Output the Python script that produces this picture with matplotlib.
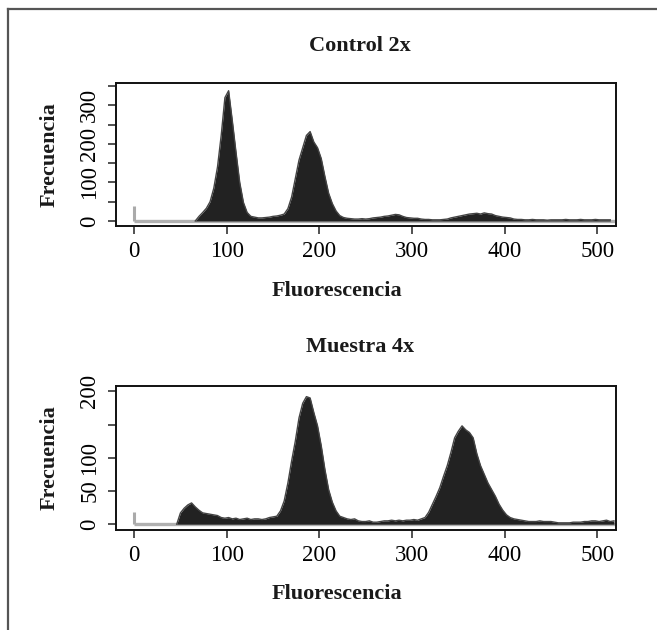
import numpy as np
import matplotlib
matplotlib.use("Agg")
import matplotlib.pyplot as plt
from matplotlib.lines import Line2D

plt.rcParams["font.family"] = ["Liberation Serif", "DejaVu Serif"]

# histogram counts, bins of width 4 starting at 0
bin_width = 4
control_counts = [
    0, 0, 0, 0, 0, 0, 0, 0, 0, 0, 0, 0, 0, 0, 0, 0, 0,
    12, 22, 33, 50, 85, 140, 222, 320, 338, 260, 178, 100, 48, 22, 12,
    10, 8, 8, 9, 10, 12, 13, 15, 18, 32, 62, 110, 158, 190, 222, 232,
    205, 190, 162, 115, 72, 45, 26, 14, 9, 7, 6, 5, 5, 6, 5, 6,
    8, 9, 10, 12, 13, 15, 17, 16, 12, 9, 8, 7, 7, 5, 4, 4,
    3, 3, 3, 4, 5, 8, 10, 12, 14, 16, 18, 19, 20, 18, 21, 19,
    18, 14, 12, 10, 9, 8, 5, 4, 4, 3, 3, 4, 3, 3, 3, 2,
    3, 3, 3, 3, 4, 3, 3, 3, 4, 3, 3, 3, 4, 3, 3, 3, 3,
]
muestra_counts = [
    0, 0, 0, 0, 0, 0, 0, 0, 0, 0, 0, 0,
    17, 24, 29, 32, 26, 21, 17, 16, 15, 14, 13, 10, 9, 10, 8, 9,
    7, 8, 9, 7, 8, 8, 7, 8, 10, 11, 12, 20, 35, 62, 95, 125,
    160, 182, 192, 190, 168, 148, 118, 82, 52, 33, 20, 12, 10, 8, 7, 8,
    5, 4, 4, 5, 3, 3, 4, 5, 5, 6, 5, 6, 5, 6, 6, 7,
    6, 8, 10, 18, 30, 42, 55, 72, 88, 108, 130, 140, 148, 142, 138, 130,
    106, 88, 75, 62, 52, 42, 30, 21, 14, 10, 8, 7, 6, 5, 4, 4,
    4, 5, 4, 4, 4, 3, 2, 2, 2, 2, 3, 3, 3, 4, 4, 5, 5, 4, 5, 6, 4, 5,
]
# counts piled up at exactly 0
control_zero = 40
muestra_zero = 19

panels = [
    ("Control 2x", control_counts, control_zero, (-13, 358),
     [0, 50, 100, 150, 200, 250, 300, 350],
     ["0", "", "100", "", "200", "", "300", ""]),
    ("Muestra 4x", muestra_counts, muestra_zero, (-8, 208),
     [0, 50, 100, 150, 200],
     ["0", "50", "100", "", "200"]),
]
x_ticks = [0, 100, 200, 300, 400, 500]

W, H = 657, 630
fig = plt.figure(figsize=(W / 100, H / 100), dpi=100, facecolor="white")

# frame: only top and left edges are visible
fig.add_artist(Line2D([8 / W, 1], [1 - 9 / H, 1 - 9 / H], transform=fig.transFigure,
                      color="#555555", lw=1.6))
fig.add_artist(Line2D([8 / W, 8 / W], [0, 1 - 9 / H], transform=fig.transFigure,
                      color="#555555", lw=1.6))

ax_boxes = [(115.6, 83, 615.8, 226), (115.6, 386, 615.8, 529.5)]
title_y = [46, 347]
xlabel_y = [291, 594]
label_kw = dict(fontsize=16, fontweight="bold", color="#1a1a1a")

for (title, counts, zero_count, ylim, yt, ytl), box, ty, xly in zip(panels, ax_boxes, title_y, xlabel_y):
    l, t, r, b = box
    ax = fig.add_axes([l / W, 1 - b / H, (r - l) / W, (b - t) / H])
    counts = np.asarray(counts, dtype=float)
    centers = bin_width * (np.arange(len(counts)) + 0.5)
    start = np.argmax(counts > 0)

    ax.plot([0, 520], [0, 0], color="#b0b0b0", lw=2.4, zorder=1, solid_capstyle="butt")
    ax.vlines(0, 0, zero_count, color="#aaaaaa", lw=2.2, zorder=1)
    xs = centers[start - 1:]
    ys = counts[start - 1:]
    ax.fill_between(xs, 0, ys, color="#222222", lw=0, zorder=2)
    ax.plot(xs, ys, color="#444444", lw=1.0, zorder=2)

    ax.set_xlim(-20, 520)
    ax.set_ylim(*ylim)
    ax.set_xticks(x_ticks)
    ax.set_xticklabels([str(v) for v in x_ticks])
    ax.set_yticks(yt)
    ax.set_yticklabels(ytl, rotation=90, va="center")
    ax.tick_params(axis="both", direction="out", length=6, width=1.2, color="#333333",
                   labelsize=16.5, pad=5)
    for s in ax.spines.values():
        s.set_linewidth(1.4)
        s.set_color("#111111")

    cx = (l + r) / 2 / W
    fig.text(cx - 6 / W, 1 - ty / H, title, ha="center", va="center", **label_kw)
    fig.text(cx - 29 / W, 1 - xly / H, "Fluorescencia", ha="center", va="center", **label_kw)
    fig.text(50 / W, 1 - (t + b) / 2 / H, "Frecuencia", ha="center", va="center",
             rotation=90, **label_kw)

fig.savefig("out.png", dpi=100, facecolor="white")
